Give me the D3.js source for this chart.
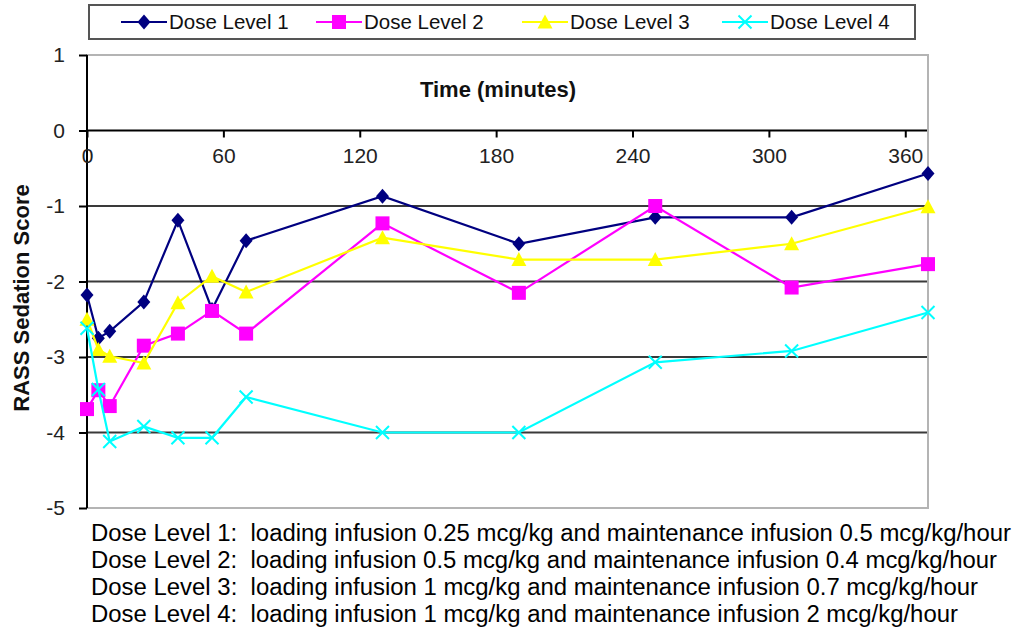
<!DOCTYPE html>
<html>
<head>
<meta charset="utf-8">
<script src="https://cdn.jsdelivr.net/npm/d3@7"></script>
<style>
  body { margin: 0; background: #fff; }
  svg { display: block; font-family: "Liberation Sans", Arial, sans-serif; }
</style>
</head>
<body>
<svg id="chart" width="1016" height="632"></svg>
<script>
// time points (minutes)
var times = [0, 5, 10, 25, 40, 55, 70, 130, 190, 250, 310, 370];

var dose1 = [-2.18, -2.75, -2.66, -2.27, -1.19, -2.37, -1.46, -0.87, -1.5, -1.15, -1.15, -0.57];
var dose2 = [-3.69, -3.44, -3.65, -2.85, -2.69, -2.39, -2.69, -1.23, -2.15, -1.0, -2.08, -1.77];
var dose3 = [-2.5, -2.9, -2.99, -3.08, -2.28, -1.93, -2.14, -1.42, -1.71, -1.71, -1.5, -1.01];
var dose4 = [-2.62, -3.43, -4.12, -3.92, -4.07, -4.07, -3.53, -4.0, -4.0, -3.07, -2.92, -2.41];

var seriesNames = ['Dose Level 1', 'Dose Level 2', 'Dose Level 3', 'Dose Level 4'];
var xTicks = [0, 60, 120, 180, 240, 300, 360];
var yTicks = [1, 0, -1, -2, -3, -4, -5];

var notes = [
  'Dose Level 1:  loading infusion 0.25 mcg/kg and maintenance infusion 0.5 mcg/kg/hour',
  'Dose Level 2:  loading infusion 0.5 mcg/kg and maintenance infusion 0.4 mcg/kg/hour',
  'Dose Level 3:  loading infusion 1 mcg/kg and maintenance infusion 0.7 mcg/kg/hour',
  'Dose Level 4:  loading infusion 1 mcg/kg and maintenance infusion 2 mcg/kg/hour'
];

var series = [
  { name: seriesNames[0], values: dose1, color: '#000080', marker: 'diamond' },
  { name: seriesNames[1], values: dose2, color: '#ff00ff', marker: 'square' },
  { name: seriesNames[2], values: dose3, color: '#ffff00', marker: 'triangle' },
  { name: seriesNames[3], values: dose4, color: '#00ffff', marker: 'cross' }
];

var svg = d3.select('#chart');
var plotL = 87, plotR = 928, plotT = 55, plotB = 508;

var x = d3.scaleLinear().domain([0, 370]).range([plotL, plotR]);
var y = d3.scaleLinear().domain([-5, 1]).range([plotB, plotT]);

// plot border
svg.append('rect')
  .attr('x', plotL).attr('y', plotT)
  .attr('width', plotR - plotL).attr('height', plotB - plotT)
  .attr('fill', 'none')
  .attr('stroke', '#b4b4b4')
  .attr('stroke-width', 2);

// gridlines
svg.append('g')
  .selectAll('line')
  .data([-1, -2, -3, -4])
  .enter().append('line')
    .attr('x1', plotL).attr('x2', plotR - 1)
    .attr('y1', d => y(d)).attr('y2', d => y(d))
    .attr('stroke', '#3a3a3a')
    .attr('stroke-width', 2);

// y axis
var yAxis = svg.append('g')
  .attr('transform', 'translate(' + plotL + ',0)')
  .call(d3.axisLeft(y).tickValues(yTicks).tickSize(8).tickPadding(14).tickFormat(d3.format('d')));
yAxis.select('.domain').attr('stroke', '#000').attr('stroke-width', 2).attr('d', 'M0,' + plotT + 'V' + plotB);
yAxis.selectAll('.tick line').attr('stroke', '#000').attr('stroke-width', 2);
yAxis.selectAll('text')
  .attr('fill', '#222')
  .style('font-size', '21px')
  .text(d => d < 0 ? '-' + Math.abs(d) : d);

// x axis at y = 0
var xAxis = svg.append('g')
  .attr('transform', 'translate(0,' + y(0) + ')')
  .call(d3.axisBottom(x).tickValues(xTicks).tickSize(7).tickPadding(11));
xAxis.select('.domain').attr('stroke', '#000').attr('stroke-width', 2).attr('d', 'M' + plotL + ',0H' + (plotR - 1));
xAxis.selectAll('.tick line').attr('stroke', '#000').attr('stroke-width', 2);
xAxis.selectAll('text').attr('fill', '#222').style('font-size', '21px');

// axis titles
svg.append('text')
  .attr('x', 498).attr('y', 97)
  .attr('text-anchor', 'middle')
  .attr('font-weight', 'bold')
  .style('font-size', '22px')
  .attr('fill', '#111')
  .text('Time (minutes)');

svg.append('text')
  .attr('transform', 'translate(29,298) rotate(-90)')
  .attr('text-anchor', 'middle')
  .attr('font-weight', 'bold')
  .style('font-size', '22px')
  .attr('fill', '#111')
  .text('RASS Sedation Score');

function drawMarker (sel, kind, color) {
  if (kind === 'diamond') {
    sel.append('path').attr('d', 'M0,-7.5L6.5,0L0,7.5L-6.5,0Z').attr('fill', color);
  } else if (kind === 'square') {
    sel.append('rect').attr('x', -7).attr('y', -7).attr('width', 14).attr('height', 14).attr('fill', color);
  } else if (kind === 'triangle') {
    sel.append('path').attr('d', 'M0,-7.5L7.5,6.5L-7.5,6.5Z').attr('fill', color);
  } else {
    sel.append('path').attr('d', 'M-6.5,-6.5L6.5,6.5M-6.5,6.5L6.5,-6.5')
      .attr('stroke', color).attr('stroke-width', 2).attr('fill', 'none');
  }
}

var line = d3.line()
  .x((d, i) => x(times[i]))
  .y(d => y(d));

series.forEach(s => {
  var g = svg.append('g');
  g.append('path')
    .attr('d', line(s.values))
    .attr('fill', 'none')
    .attr('stroke', s.color)
    .attr('stroke-width', 2.2);
  g.selectAll('g.pt')
    .data(s.values)
    .enter().append('g')
      .attr('class', 'pt')
      .attr('transform', (d, i) => 'translate(' + x(times[i]) + ',' + y(d) + ')')
      .each(function () { drawMarker(d3.select(this), s.marker, s.color); });
});

// legend
var legend = svg.append('g');
legend.append('rect')
  .attr('x', 89).attr('y', 5)
  .attr('width', 826).attr('height', 34)
  .attr('fill', '#fff')
  .attr('stroke', '#555')
  .attr('stroke-width', 2);

var legendX = [121, 316, 522, 722];
series.forEach((s, i) => {
  var lg = legend.append('g').attr('transform', 'translate(' + legendX[i] + ',22)');
  lg.append('line').attr('x1', 0).attr('x2', 46).attr('stroke', s.color).attr('stroke-width', 2);
  drawMarker(lg.append('g').attr('transform', 'translate(23,0)'), s.marker, s.color);
  lg.append('text')
    .attr('x', 48).attr('y', 7)
    .style('font-size', '20.5px')
    .attr('fill', '#111')
    .text(s.name);
});

// dose notes
var noteEnds = [1011, 997, 978, 958];
svg.append('g')
  .selectAll('text')
  .data(notes)
  .enter().append('text')
    .attr('x', 91)
    .attr('y', (d, i) => 541 + i * 27)
    .style('font-size', '23.5px')
    .style('white-space', 'pre')
    .attr('fill', '#000')
    .attr('textLength', (d, i) => noteEnds[i] - 91)
    .attr('lengthAdjust', 'spacingAndGlyphs')
    .text(d => d);
</script>
</body>
</html>
